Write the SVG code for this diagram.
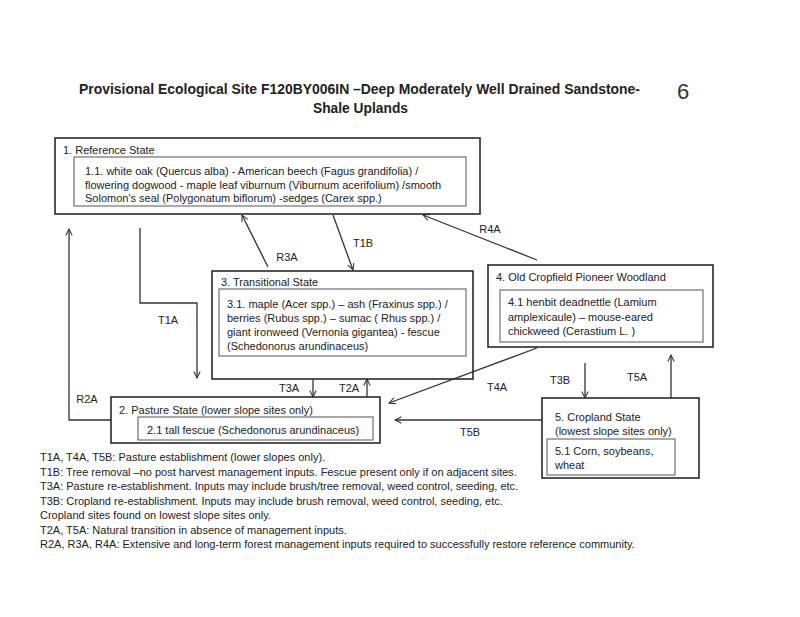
<svg xmlns="http://www.w3.org/2000/svg" width="800" height="617" viewBox="0 0 800 617">
<defs>
<style>
text{font-family:"Liberation Sans",Arial,sans-serif;font-size:11px;fill:#222}
.title{font-weight:bold;font-size:14px}
.num{font-size:22px;fill:#333}
.outer{fill:none;stroke:#2a2a2a;stroke-width:1.6}
.inner{fill:none;stroke:#555;stroke-width:1}
.conn{fill:none;stroke:#333;stroke-width:1.3}
.lbl{text-anchor:middle}
</style>
<marker id="ah" viewBox="0 0 10 10" refX="9" refY="5" markerWidth="8" markerHeight="8" markerUnits="userSpaceOnUse" orient="auto">
<path d="M1,1 L9,5 L1,9" fill="none" stroke="#333" stroke-width="1.3"/>
</marker>
</defs>
<rect width="800" height="617" fill="#fff"/>
<g id="title">
<text class="title" x="79" y="94" textLength="561" lengthAdjust="spacingAndGlyphs">Provisional Ecological Site F120BY006IN –Deep Moderately Well Drained Sandstone-</text>
<text class="title" x="313" y="113" textLength="95" lengthAdjust="spacingAndGlyphs">Shale Uplands</text>
<text class="num" x="677" y="99">6</text>
</g>
<g id="connectors">
<path class="conn" d="M111,420 H69 V229" marker-end="url(#ah)"/>
<path class="conn" d="M140,228 V303 H197 V378" marker-end="url(#ah)"/>
<path class="conn" d="M268,267 L242,215" marker-end="url(#ah)"/>
<path class="conn" d="M333,215 L353,270" marker-end="url(#ah)"/>
<path class="conn" d="M537,260 L423,215" marker-end="url(#ah)"/>
<path class="conn" d="M313,379 V397" marker-end="url(#ah)"/>
<path class="conn" d="M367,397 V379" marker-end="url(#ah)"/>
<path class="conn" d="M537,348 L389,403" marker-end="url(#ah)"/>
<path class="conn" d="M542,420 H395" marker-end="url(#ah)"/>
<path class="conn" d="M585,363 V398" marker-end="url(#ah)"/>
<path class="conn" d="M671,398 V355" marker-end="url(#ah)"/>
<text class="lbl" x="490" y="233">R4A</text>
<text class="lbl" x="287" y="261">R3A</text>
<text class="lbl" x="363" y="247">T1B</text>
<text class="lbl" x="168" y="324">T1A</text>
<text class="lbl" x="87" y="403">R2A</text>
<text class="lbl" x="289" y="392">T3A</text>
<text class="lbl" x="349" y="392">T2A</text>
<text class="lbl" x="497" y="391">T4A</text>
<text class="lbl" x="560" y="384">T3B</text>
<text class="lbl" x="637" y="381">T5A</text>
<text class="lbl" x="470" y="436">T5B</text>
</g>
<g id="state1">
<rect class="outer" x="55" y="138" width="425" height="76"/>
<rect class="inner" x="74" y="157" width="392" height="49"/>
<text x="63" y="154">1. Reference State</text>
<text x="85" y="175">1.1. white oak (Quercus alba) - American beech (Fagus grandifolia) /</text>
<text x="85" y="189">flowering dogwood - maple leaf viburnum (Viburnum acerifolium) /smooth</text>
<text x="85" y="202">Solomon's seal (Polygonatum biflorum) -sedges (Carex spp.)</text>
</g>
<g id="state3">
<rect class="outer" x="212" y="271" width="261" height="108"/>
<rect class="inner" x="219" y="289" width="247" height="67"/>
<text x="221" y="286">3. Transitional State</text>
<text x="227" y="308">3.1. maple (Acer spp.) – ash (Fraxinus spp.) /</text>
<text x="227" y="322">berries (Rubus spp.) – sumac ( Rhus spp.) /</text>
<text x="227" y="336">giant ironweed (Vernonia gigantea) - fescue</text>
<text x="227" y="350">(Schedonorus arundinaceus)</text>
</g>
<g id="state4">
<rect class="outer" x="488" y="265" width="225" height="82"/>
<rect class="inner" x="500" y="290" width="203" height="52"/>
<text x="496" y="281">4. Old Cropfield Pioneer Woodland</text>
<text x="508" y="306">4.1 henbit deadnettle (Lamium</text>
<text x="508" y="321">amplexicaule) – mouse-eared</text>
<text x="508" y="335">chickweed (Cerastium L. )</text>
</g>
<g id="state2">
<rect class="outer" x="111" y="397" width="269" height="46"/>
<rect class="inner" x="138" y="417" width="235" height="23"/>
<text x="119" y="414">2. Pasture State (lower slope sites only)</text>
<text x="147" y="434">2.1 tall fescue (Schedonorus arundinaceus)</text>
</g>
<g id="state5">
<rect class="outer" x="542" y="398" width="157" height="80"/>
<rect class="inner" x="547" y="439" width="128" height="36"/>
<text x="555" y="421">5. Cropland State</text>
<text x="555" y="435">(lowest slope sites only)</text>
<text x="555" y="455">5.1 Corn, soybeans,</text>
<text x="555" y="469">wheat</text>
</g>
<g id="legend">
<text x="40" y="461">T1A, T4A, T5B: Pasture establishment (lower slopes only).</text>
<text x="40" y="475.5">T1B: Tree removal –no post harvest management inputs. Fescue present only if on adjacent sites.</text>
<text x="40" y="490">T3A: Pasture re-establishment.  Inputs may include brush/tree removal, weed control, seeding, etc.</text>
<text x="40" y="504.5">T3B: Cropland re-establishment. Inputs may include brush removal, weed control, seeding, etc.</text>
<text x="40" y="519">Cropland sites found on lowest slope sites only.</text>
<text x="40" y="533.5">T2A, T5A: Natural transition in absence of management inputs.</text>
<text x="40" y="548">R2A, R3A, R4A: Extensive and long-term forest management inputs required to successfully restore reference community.</text>
</g>
</svg>
